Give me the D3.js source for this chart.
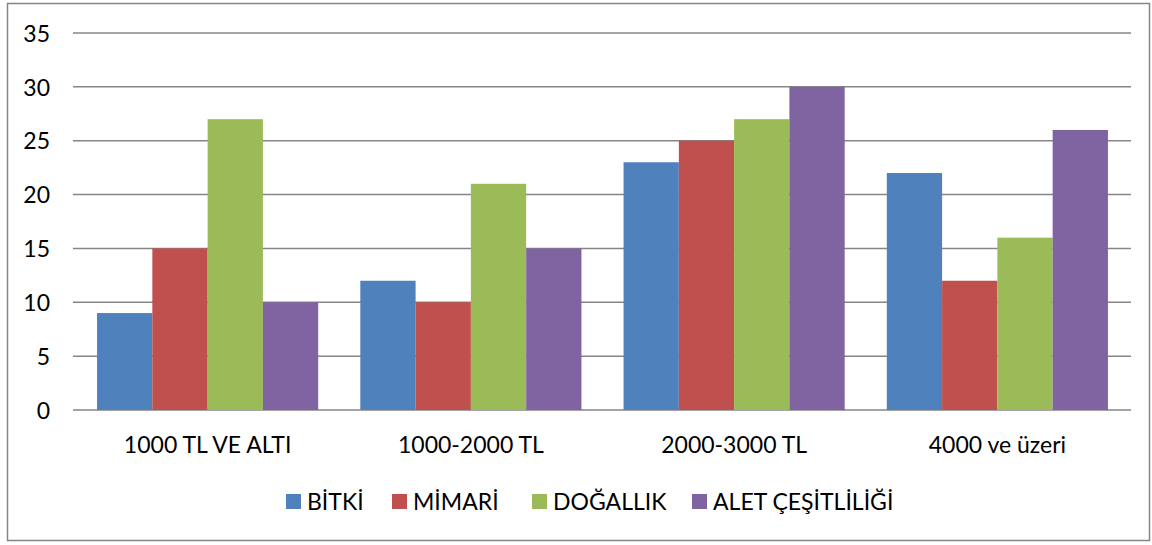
<!DOCTYPE html>
<html><head><meta charset="utf-8">
<script src="https://cdn.jsdelivr.net/npm/d3@7"></script>
<style>body{margin:0;background:#fff}svg{display:block}text{font-family:Lato,"Open Sans",sans-serif;fill:#000}</style>
</head><body><svg id="c" width="1152" height="545"></svg>
<script>
const categories = ["1000 TL VE ALTI","1000-2000 TL","2000-3000 TL","4000 ve üzeri"];
const seriesNames = ["BİTKİ","MİMARİ","DOĞALLIK","ALET ÇEŞİTLİLİĞİ"];
const bitki = [9,12,23,22];
const mimari = [15,10,25,12];
const dogallik = [27,21,27,16];
const alet = [10,15,30,26];
const yTicks = [0,5,10,15,20,25,30,35];
const colors = ["#4F81BD","#C0504D","#9BBB59","#8064A2"];
const seriesValues = [bitki,mimari,dogallik,alet];

(function(){
const FS = 23;
const svg = d3.select("#c");
svg.append("rect").attr("x",7.5).attr("y",3.5).attr("width",1142).attr("height",537)
  .attr("fill","#fff").attr("stroke","#868686").attr("stroke-width",1.5);

const pl=73,pr=1131,pt=33,pb=410;
const y=d3.scaleLinear().domain([0,35]).range([pb,pt]);
const x0=d3.scaleBand().domain(categories).range([76,1129]).paddingInner(0.16).paddingOuter(0.08);
const x1=d3.scaleBand().domain(seriesNames).range([0,x0.bandwidth()]);

svg.append("g").selectAll("line").data(yTicks).join("line")
  .attr("x1",pl).attr("x2",pr).attr("y1",d=>y(d)).attr("y2",d=>y(d))
  .attr("stroke","#868686").attr("stroke-width",1.5);

const yAxis=svg.append("g").attr("transform",`translate(${pl},0)`)
  .call(d3.axisLeft(y).tickValues(yTicks).tickSize(0).tickPadding(23));
yAxis.select(".domain").remove();
yAxis.selectAll("text").attr("font-size",FS).style("font-family","Lato,sans-serif").attr("dy","0.36em");

const g=svg.append("g");
categories.forEach((c,i)=>{
  seriesNames.forEach((s,j)=>{
    const v=seriesValues[j][i];
    g.append("rect").attr("x",x0(c)+x1(s)).attr("y",y(v))
      .attr("width",x1.bandwidth()).attr("height",y(0)-y(v))
      .attr("fill",colors[j]);
  });
});

const xAxis=svg.append("g").attr("transform",`translate(0,${pb})`)
  .call(d3.axisBottom(x0).tickSize(0).tickPadding(27));
xAxis.select(".domain").remove();
xAxis.selectAll("text").attr("font-size",FS).style("font-family","Lato,sans-serif");

const leg=svg.append("g");
const legX=[286,392,532,692];
seriesNames.forEach((s,j)=>{
  leg.append("rect").attr("x",legX[j]).attr("y",494).attr("width",15).attr("height",15).attr("fill",colors[j]);
  leg.append("text").attr("x",legX[j]+21).attr("y",501.5).attr("dy","0.36em").attr("font-size",FS).text(s);
});
})();
</script></body></html>
